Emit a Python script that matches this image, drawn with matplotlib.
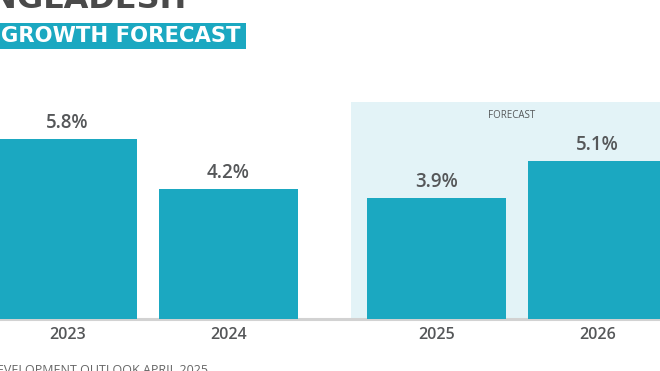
import matplotlib.pyplot as plt
import matplotlib.patches as mpatches
import numpy as np

# data
years = ['2023', '2024', '2025', '2026']
growth = [5.8, 4.2, 3.9, 5.1]
is_forecast = [False, False, True, True]

TEAL = '#1ba8c1'
SHADE = '#e3f3f7'
GREY_TXT = '#555759'

W, H = 660, 371
fig = plt.figure(figsize=(W / 100, H / 100), dpi=100)
plt.rcParams['font.family'] = ['Open Sans', 'DejaVu Sans']


def fy(py):
    return 1 - py / H


# main axes: baseline at 319 px, top at 102 px
ax = fig.add_axes([0, fy(319), 1, 217 / H])
gap = 0.29
x = np.arange(len(years)) + gap * np.array(is_forecast)
bw = 0.863

first_fc = x[np.array(is_forecast)][0]
ax.axvspan(first_fc - 0.53, 10, color=SHADE, lw=0, zorder=0)
ax.axhline(0, color='#d2d2d2', lw=2.2, zorder=1, clip_on=False)
ax.bar(x, growth, width=bw, color=TEAL, zorder=2)

for xi, v in zip(x, growth):
    ax.annotate(f'{v}%', (xi, v), xytext=(0, 4.5), textcoords='offset points',
                ha='center', va='bottom', fontsize=13.5, fontweight='semibold',
                color=GREY_TXT)

fc_x = x[np.array(is_forecast)].mean() - 0.03
ax.text(fc_x, 0.94, 'FORECAST', transform=ax.get_xaxis_transform(),
        ha='center', va='center', fontsize=7, color=GREY_TXT)

ax.set_xlim(-67.5 / 161, (W - 67.5) / 161)
ax.set_ylim(0, 7)
ax.set_xticks(x, years)
ax.tick_params(axis='x', length=0, pad=6, labelsize=11.5, labelcolor=GREY_TXT)
for lab in ax.get_xticklabels():
    lab.set_fontweight('semibold')
ax.set_yticks([])
for s in ax.spines.values():
    s.set_visible(False)
ax.patch.set_alpha(0)

# title (cut off at top in the original)
fig.text(187 / W, fy(8), 'BANGLADESH', ha='right', va='baseline',
         fontsize=23, fontweight='bold', color='#4a4a4a', family='DejaVu Sans')

# subtitle band
fig.patches.append(mpatches.Rectangle((0, fy(49)), 246 / W, 26 / H,
                                      transform=fig.transFigure,
                                      color=TEAL, lw=0))
fig.text(1 / W, fy(36), 'GROWTH FORECAST', ha='left', va='center',
         fontsize=15.2, fontweight='bold', color='white', family='DejaVu Sans')

# source (cut off at bottom)
fig.text(208 / W, fy(364), 'SOURCE: ASIAN DEVELOPMENT OUTLOOK APRIL 2025',
         ha='right', va='top', fontsize=9, color='#666666')

fig.savefig('out.png', dpi=100)
